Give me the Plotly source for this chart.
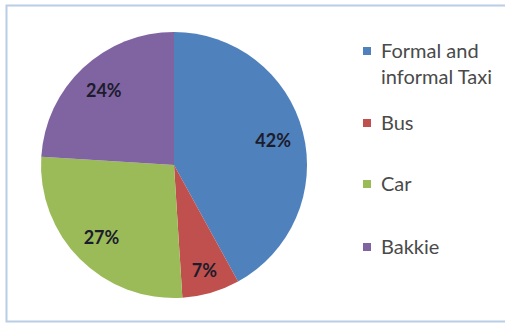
import plotly.graph_objects as go

labels = ["Formal and informal Taxi", "Bus", "Car", "Bakkie"]
legend_text = ["Formal and<br>informal Taxi", "Bus", "Car", "Bakkie"]
values = [42, 7, 27, 24]
colors = ["#4F81BD", "#C0504D", "#9BBB59", "#8064A2"]

W, H = 505, 324
def px(x):
    return x / W
def py(y):
    return 1 - y / H

cx, cy, r = 174, 165, 133
dom = dict(x=[px(cx - r), px(cx + r)], y=[py(cy + r), py(cy - r)])

fig = go.Figure()
fig.add_trace(go.Pie(
    labels=labels, values=values,
    marker=dict(colors=colors, line=dict(width=0)),
    sort=False, direction="clockwise", rotation=0,
    textinfo="none", domain=dom,
    showlegend=False, hoverinfo="label+percent",
))
# transparent ring overlay used only to place the percentage labels further out
fig.add_trace(go.Pie(
    labels=labels, values=values, hole=0.54,
    marker=dict(colors=["rgba(0,0,0,0)"] * len(values), line=dict(width=0)),
    sort=False, direction="clockwise", rotation=0,
    textinfo="percent", texttemplate="%{percent:.0%}",
    textposition="inside", insidetextorientation="horizontal",
    textfont=dict(family="Lato", size=18, color="#1c1c2c", weight="bold"),
    domain=dom, showlegend=False, hoverinfo="skip",
))

shapes = [dict(type="rect", xref="paper", yref="paper",
               x0=px(6.5), x1=px(510), y0=py(321.5), y1=py(5.5),
               line=dict(color="#B9CDE5", width=2), fillcolor="rgba(0,0,0,0)")]
annotations = []
row_y = [51, 123, 184, 247]
for txt, col, yy in zip(legend_text, colors, row_y):
    shapes.append(dict(type="rect", xref="paper", yref="paper",
                       x0=px(363), x1=px(371), y0=py(yy + 4), y1=py(yy - 4),
                       line=dict(width=0), fillcolor=col))
    annotations.append(dict(text=txt, xref="paper", yref="paper",
                            x=px(379), y=py(yy - 15), xanchor="left", yanchor="top",
                            align="left", showarrow=False,
                            font=dict(family="Lato", size=20, color="#4a4a4a")))

fig.update_layout(
    width=W, height=H, margin=dict(l=0, r=0, t=0, b=0),
    paper_bgcolor="white", plot_bgcolor="white",
    shapes=shapes, annotations=annotations,
)
fig.write_html("out.html")
